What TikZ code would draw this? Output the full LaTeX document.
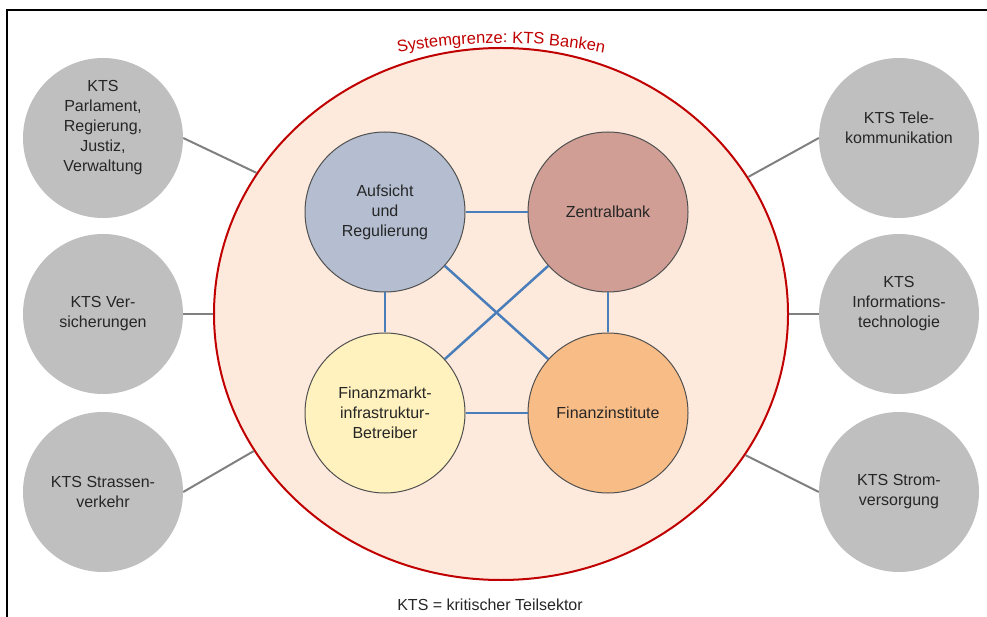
\documentclass[tikz,border=0pt]{standalone}
\usepackage{fontspec}
\setmainfont{Liberation Sans}
\setsansfont{Liberation Sans}
\usetikzlibrary{shapes.geometric,decorations.text}
\definecolor{sysred}{HTML}{C00000}
\definecolor{sysfill}{HTML}{FDEADC}
\definecolor{kgrey}{HTML}{BFBFBF}
\definecolor{linkgrey}{HTML}{808080}
\definecolor{linkblue}{HTML}{4A7EBB}
\definecolor{innerline}{HTML}{505050}
\definecolor{cauf}{HTML}{B4BED0}
\definecolor{czen}{HTML}{D09E94}
\definecolor{cfmi}{HTML}{FFF2BE}
\definecolor{cfin}{HTML}{F8BC86}
\definecolor{txtc}{HTML}{262626}
\begin{document}
\begin{tikzpicture}[x=1pt,y=1pt,
  greycirc/.style={circle,fill=kgrey,minimum size=160pt,inner sep=0pt},
  innercirc/.style={circle,draw=innerline,line width=1pt,minimum size=160pt,inner sep=0pt,align=center,text=txtc,font=\fontsize{16}{20}\selectfont},
  txt/.style={align=center,text=txtc,font=\fontsize{16}{20}\selectfont},
  link/.style={draw=linkgrey,line width=2pt},
  bluelink/.style={draw=linkblue,line width=2.5pt}
]
\useasboundingbox (0,0) rectangle (987,616);
\draw[line width=2pt] (7,-5) -- (7,606) -- (995,606);

\node[ellipse, draw=sysred, fill=sysfill, line width=2pt, minimum width=574pt, minimum height=532pt, inner sep=0pt] (big) at (501,302) {};

\path[decorate, decoration={text along path, text align=center, text color=sysred,
  text={|\fontsize{16.5}{19}\selectfont|Systemgrenze: KTS Banken}}]
  (501,38) ++(110:535) arc[start angle=110, end angle=70, radius=535];

% grey outer circles
\node[greycirc] (g1) at (103,478) {};
\node[greycirc] (g2) at (103,302) {};
\node[greycirc] (g3) at (103,124) {};
\node[greycirc] (g4) at (899,478) {};
\node[greycirc] (g5) at (899,302) {};
\node[greycirc] (g6) at (899,124) {};

\node[txt] (t1) at ([yshift=10pt]g1.center) {KTS\\Parlament,\\Regierung,\\Justiz,\\Verwaltung};
\node[txt] (t2) at (g2.center) {KTS Ver-\\sicherungen};
\node[txt] (t3) at (g3.center) {KTS Strassen-\\verkehr};
\node[txt] (t4) at ([yshift=10pt]g4.center) {KTS Tele-\\kommunikation};
\node[txt] (t5) at ([yshift=10pt]g5.center) {KTS\\Informations-\\technologie};
\node[txt] (t6) at (g6.center) {KTS Strom-\\versorgung};

\draw[link] (g1.east) -- (big.150.5);
\draw[link] (g2.east) -- (big.west);
\draw[link] (g3.east) -- (big.209.5);
\draw[link] (g4.west) -- (big.29.5);
\draw[link] (g5.west) -- (big.east);
\draw[link] (g6.west) -- (big.330.5);

% inner circles
\node[innercirc, fill=cauf] (auf) at (385,404) {Aufsicht\\und\\Regulierung};
\node[innercirc, fill=czen] (zen) at (608,404) {Zentralbank};
\node[innercirc, fill=cfmi] (fmi) at (385,203) {Finanzmarkt-\\infrastruktur-\\Betreiber};
\node[innercirc, fill=cfin] (fin) at (608,203) {Finanzinstitute};

\draw[bluelink] (auf) -- (zen);
\draw[bluelink] (auf) -- (fmi);
\draw[bluelink] (zen) -- (fin);
\draw[bluelink] (fmi) -- (fin);
\draw[bluelink] (auf) -- (fin);
\draw[bluelink] (fmi) -- (zen);

\node[txt, anchor=base] (foot) at (490,6) {KTS = kritischer Teilsektor};
\end{tikzpicture}
\end{document}
